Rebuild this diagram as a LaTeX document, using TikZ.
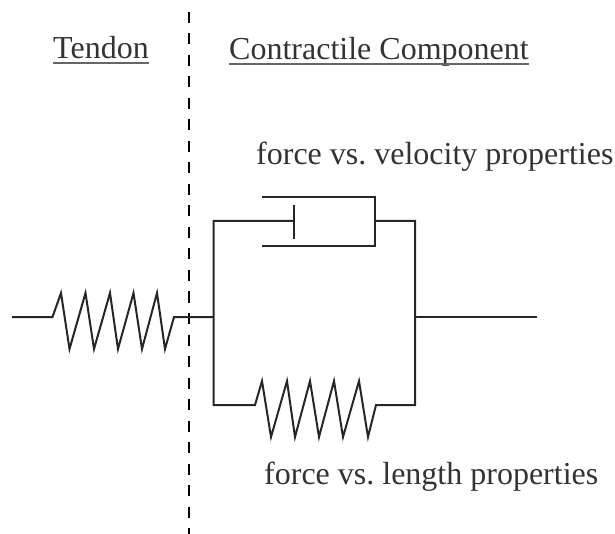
\documentclass[tikz,border=0pt]{standalone}
\usepackage{fontspec}
\setmainfont{Liberation Serif}
\usetikzlibrary{positioning,calc}

\begin{document}
\frenchspacing
\begin{tikzpicture}[x=1pt, y=-1pt, line cap=butt, line join=miter]
  % styles
  \tikzset{
    wire/.style={black!85, line width=2pt},
    divider/.style={black, line width=2pt, dash pattern=on 11pt off 10.5pt},
    rulebar/.style={black!60, line width=1.4pt},
    caption/.style={font=\fontsize{32}{36}\selectfont, text=black!80, inner sep=0pt, anchor=base west}
  }
  \useasboundingbox (0,0) rectangle (615,534);

  % ----- frame -----
  \coordinate (FL) at (213.5,317);
  \coordinate (FTL) at (213.5,221);
  \coordinate (FBL) at (213.5,405);
  \coordinate (FR) at (415,317);
  \coordinate (FTR) at (415,221);
  \coordinate (FBR) at (415,405);
  \coordinate (CR) at (375,221);
  \coordinate (PL) at (294,221);

  % divider
  \draw[divider] (189,12) -- (189,534);

  % tendon spring
  \draw[wire] (12,317) -- (52.5,317) -- (61,293) -- (69.5,349) -- (85.5,293) -- (94,349)
    -- (110,293) -- (118,349) -- (133.5,293) -- (142,349) -- (157,293) -- (165,349)
    -- (174,317) -- (FL);

  % parallel branches
  \draw[wire] (PL) -- (FTL) -- (FBL) -- (255,405) -- (262,381) -- (271,437) -- (287,381)
    -- (295,437) -- (310,381) -- (319,437) -- (334,381) -- (343,437) -- (359,381)
    -- (368,437) -- (376,405) -- (FBR) -- (FTR) -- (CR);
  \draw[wire] (FR) -- (537,317);

  % damper
  \draw[wire] (294,205) -- (294,239);
  \draw[wire] (262,197.5) -- (375,197.5) -- (375,246) -- (262,246);

  % captions
  \node[caption] (tendon) at (53,59) {Tendon};
  \node[caption] (cc) at (229,60) {Contractile Component};
  \node[caption] (fv) at (256,165) {force vs. velocity properties};
  \node[caption] (fl) at (264,484) {force vs. length properties};
  \draw[rulebar] ($(tendon.base west)+(0,4)$) -- ($(tendon.base east)+(0,4)$);
  \draw[rulebar] ($(cc.base west)+(0,4)$) -- ($(cc.base east)+(0,4)$);
\end{tikzpicture}
\end{document}
